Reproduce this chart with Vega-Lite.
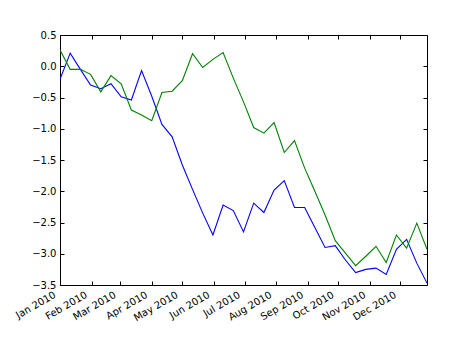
{
  "$schema": "https://vega.github.io/schema/vega-lite/v6.json",
  "width": 367,
  "height": 250,
  "autosize": {"type": "none"},
  "padding": {"left": 60, "top": 35, "right": 47, "bottom": 72},
  "background": "white",
  "config": {
    "view": {"stroke": "#000000", "strokeWidth": 1},
    "axis": {"grid": false, "domain": false, "labelFont": "DejaVu Sans", "labelFontSize": 10, "labelColor": "#000000", "tickColor": "#000000", "tickSize": -4, "title": null}
  },
  "data": {"values": [
    {"date": "2010-01-01", "a": -0.21, "b": 0.26},
    {"date": "2010-01-11", "a": 0.21, "b": -0.05},
    {"date": "2010-01-21", "a": -0.05, "b": -0.05},
    {"date": "2010-01-31", "a": -0.30, "b": -0.13},
    {"date": "2010-02-10", "a": -0.36, "b": -0.41},
    {"date": "2010-02-20", "a": -0.28, "b": -0.15},
    {"date": "2010-03-02", "a": -0.49, "b": -0.28},
    {"date": "2010-03-12", "a": -0.54, "b": -0.70},
    {"date": "2010-03-22", "a": -0.07, "b": -0.78},
    {"date": "2010-04-01", "a": -0.48, "b": -0.87},
    {"date": "2010-04-11", "a": -0.93, "b": -0.42},
    {"date": "2010-04-21", "a": -1.13, "b": -0.40},
    {"date": "2010-05-01", "a": -1.58, "b": -0.23},
    {"date": "2010-05-11", "a": -1.97, "b": 0.20},
    {"date": "2010-05-21", "a": -2.35, "b": -0.02},
    {"date": "2010-05-31", "a": -2.70, "b": 0.11},
    {"date": "2010-06-10", "a": -2.22, "b": 0.22},
    {"date": "2010-06-20", "a": -2.31, "b": -0.19},
    {"date": "2010-06-30", "a": -2.65, "b": -0.57},
    {"date": "2010-07-10", "a": -2.19, "b": -0.98},
    {"date": "2010-07-20", "a": -2.34, "b": -1.07},
    {"date": "2010-07-30", "a": -1.98, "b": -0.90},
    {"date": "2010-08-09", "a": -1.83, "b": -1.38},
    {"date": "2010-08-19", "a": -2.26, "b": -1.19},
    {"date": "2010-08-29", "a": -2.26, "b": -1.63},
    {"date": "2010-09-08", "a": -2.58, "b": -2.00},
    {"date": "2010-09-18", "a": -2.90, "b": -2.38},
    {"date": "2010-09-28", "a": -2.87, "b": -2.79},
    {"date": "2010-10-08", "a": -3.10, "b": -2.99},
    {"date": "2010-10-18", "a": -3.30, "b": -3.19},
    {"date": "2010-10-28", "a": -3.25, "b": -3.04},
    {"date": "2010-11-07", "a": -3.23, "b": -2.88},
    {"date": "2010-11-17", "a": -3.33, "b": -3.14},
    {"date": "2010-11-27", "a": -2.93, "b": -2.70},
    {"date": "2010-12-07", "a": -2.77, "b": -2.91},
    {"date": "2010-12-17", "a": -3.15, "b": -2.51},
    {"date": "2010-12-27", "a": -3.47, "b": -2.93}
  ]},
  "layer": [
    {
      "mark": {"type": "line", "color": "#0000ff", "strokeWidth": 1.1, "clip": true},
      "encoding": {
        "x": {"field": "date", "type": "temporal",
              "scale": {"type": "utc", "domain": [{"year": 2010, "month": 1, "date": 1, "utc": true}, {"year": 2010, "month": 12, "date": 27, "utc": true}], "nice": false},
              "axis": {"orient": "bottom", "format": "%b %Y", "tickCount": {"interval": "month", "step": 1}, "labelAngle": -30, "labelAlign": "right", "labelBaseline": "bottom", "labelPadding": 17, "labelOffset": -3, "labelFlush": false, "labelOverlap": false}},
        "y": {"field": "a", "type": "quantitative",
              "scale": {"domain": [-3.5, 0.5], "nice": false, "zero": false},
              "axis": {"orient": "left", "values": [-3.5, -3, -2.5, -2, -1.5, -1, -0.5, 0, 0.5], "format": ".1f", "labelPadding": 8, "labelFlush": false, "labelOverlap": false}}
      }
    },
    {
      "mark": {"type": "line", "color": "#008000", "strokeWidth": 1.1, "clip": true},
      "encoding": {
        "x": {"field": "date", "type": "temporal",
              "scale": {"type": "utc", "domain": [{"year": 2010, "month": 1, "date": 1, "utc": true}, {"year": 2010, "month": 12, "date": 27, "utc": true}], "nice": false},
              "axis": {"orient": "top", "labels": false, "tickCount": {"interval": "month", "step": 1}}},
        "y": {"field": "b", "type": "quantitative",
              "scale": {"domain": [-3.5, 0.5], "nice": false, "zero": false},
              "axis": {"orient": "right", "labels": false, "values": [-3.5, -3, -2.5, -2, -1.5, -1, -0.5, 0, 0.5]}}
      }
    }
  ],
  "resolve": {"axis": {"x": "independent", "y": "independent"}}
}
